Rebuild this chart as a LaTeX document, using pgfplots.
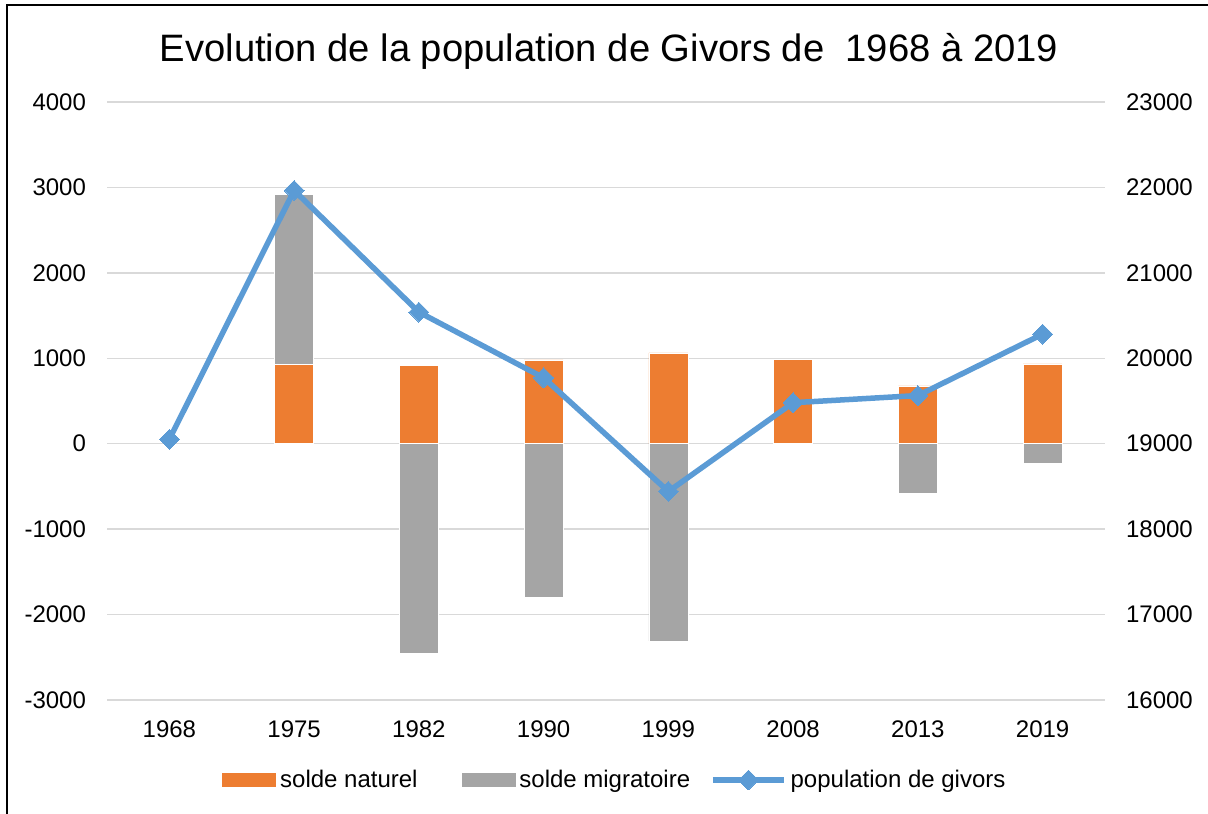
\documentclass[border=0pt]{standalone}
\usepackage{pgfplots}
\pgfplotsset{compat=1.18}
\usepackage{fontspec}
\setmainfont{Liberation Sans}
\definecolor{cOr}{HTML}{ED7D31}
\definecolor{cGr}{HTML}{A5A5A5}
\definecolor{cBl}{HTML}{5B9BD5}
\definecolor{cGrid}{HTML}{D9D9D9}
\newcommand\tickfont{\fontsize{12}{14.4}\selectfont}
\pgfplotsset{
 orleg/.style={legend image code/.code={\fill[cOr] (0pt,-3.25pt) rectangle (26.5pt,3.25pt);}},
 grleg/.style={legend image code/.code={\fill[cGr] (0pt,-3.25pt) rectangle (26.5pt,3.25pt);}},
 lineleg/.style={legend image code/.code={\draw[##1, mark repeat=2, mark phase=2] plot coordinates {(0pt,0pt) (17.75pt,0pt) (35.5pt,0pt)};}},
}
\begin{document}
\begin{tikzpicture}
\path[use as bounding box] (0,0) rectangle (604pt,406.5pt);
\draw[line width=1pt] (3.5pt,-5pt) -- (3.5pt,404pt) -- (610pt,404pt);
\node[font=\fontsize{19.1}{23}\selectfont] at (304.5pt,381pt) {Evolution de la population de Givors de\ \ 1968 à 2019};

\begin{axis}[
 at={(53.5pt,56.5pt)}, anchor=south west, scale only axis, width=499pt, height=299pt,
 xmin=-0.5, xmax=7.5, ymin=-3000, ymax=4000, ytick={-3000,-2000,...,4000},
 xtick={0,...,7}, xticklabels={1968,1975,1982,1990,1999,2008,2013,2019},
 axis line style={draw=none}, major tick length=0pt,
 ymajorgrids, grid style={cGrid, line width=0.75pt},
 ticklabel style={font=\tickfont},
 /pgf/number format/assume math mode=true,
 /pgf/number format/1000 sep={},
 xticklabel style={yshift=-7pt},
 yticklabel style={xshift=-7pt},
 ybar, bar width=19.5pt, bar shift=0pt,
]
\addplot[fill=cGr, draw=white, line width=0.3pt] coordinates {(1,2923) (2,-2455) (3,-1802) (4,-2309) (5,0) (6,-581) (7,-234)};
\addplot[fill=cOr, draw=white, line width=0.3pt] coordinates {(1,929) (2,914) (3,981) (4,1063) (5,989) (6,676) (7,934)};
\end{axis}

\begin{axis}[
 at={(53.5pt,56.5pt)}, anchor=south west, scale only axis, width=499pt, height=299pt,
 xmin=-0.5, xmax=7.5, ymin=16000, ymax=23000, ytick={16000,17000,...,23000},
 scaled y ticks=false,
 hide x axis, axis y line*=right, axis line style={draw=none}, major tick length=0pt,
 ticklabel style={font=\tickfont},
 /pgf/number format/assume math mode=true,
 /pgf/number format/1000 sep={},
 yticklabel style={xshift=7pt},
 legend style={at={(0.1152,-0.1338)}, anchor=west, draw=none, fill=none, inner sep=0pt, legend columns=3, font=\tickfont,
   /tikz/every even column/.append style={column sep=8pt}},
 legend cell align=left,
]
\addlegendimage{orleg}
\addlegendentry{solde naturel\kern12pt}
\addlegendimage{grleg}
\addlegendentry{solde migratoire}
\addplot[color=cBl, line width=2.75pt, mark=square*, mark size=3.5pt, mark options={rotate=45, fill=cBl, draw=cBl, line width=0pt}, lineleg]
 coordinates {(0,19052) (1,21965) (2,20540) (3,19772) (4,18441) (5,19480) (6,19564) (7,20283)};
\addlegendentry{population de givors}
\end{axis}
\end{tikzpicture}
\end{document}
